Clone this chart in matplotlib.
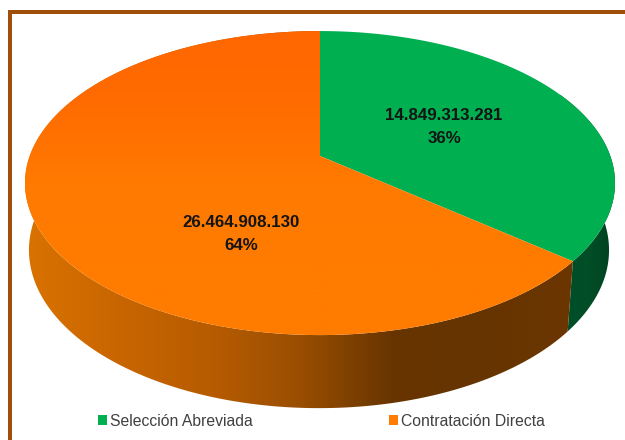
import numpy as np
import matplotlib
matplotlib.use("Agg")
import matplotlib.pyplot as plt
from matplotlib.colors import LinearSegmentedColormap
from matplotlib.patches import Patch, Polygon, Rectangle

categories = ["Selección Abreviada", "Contratación Directa"]
values = [14849313281, 26464908130]
value_labels = ["14.849.313.281", "26.464.908.130"]
percent_labels = ["36%", "64%"]

GREEN = "#00b050"
ORANGE = "#ff7c00"
BORDER = "#a04f0a"

# perspective of the pie disc, in image pixels
P = 0.178
CX = 320


def project_top(theta):
    u, v = np.sin(theta), np.cos(theta)
    d = 1 + P * v
    return CX + 290.3 * u / d, 156 - 147.2 * v / d


def project_bottom(theta):
    u, v = np.sin(theta), np.cos(theta)
    d = 1 + P * v
    return CX - 1 + 285.4 * u / d, 222 - 153 * v / d


def gradient_fill(ax, clip, colors, extent, vertical=False, z=1):
    cmap = LinearSegmentedColormap.from_list("g", colors)
    grad = np.linspace(0, 1, 256)
    grad = grad[:, None] if vertical else grad[None, :]
    im = ax.imshow(grad, cmap=cmap, extent=extent, aspect="auto", origin="upper", zorder=z)
    ax.add_patch(clip)
    clip.set_visible(False)
    im.set_clip_path(clip)


fig = plt.figure(figsize=(6.25, 4.40), dpi=100)
ax = fig.add_axes([0, 0, 1, 1])

fracs = np.array(values) / sum(values)
split = fracs[0] * 2 * np.pi

# sides first, the top face covers whatever is hidden
t = np.linspace(0, split, 200)
tx, ty = project_top(t)
bx, by = project_bottom(t)
side_green = Polygon(np.r_[np.c_[tx, ty], np.c_[bx, by][::-1]], closed=True, transform=ax.transData)
gradient_fill(ax, side_green, ["#00502a", "#004d26", "#003f1f"], (560, 620, 420, 0))

t = np.linspace(split, 2 * np.pi, 500)
tx, ty = project_top(t)
bx, by = project_bottom(t)
side_orange = Polygon(np.r_[np.c_[tx, ty], np.c_[bx, by][::-1]], closed=True, transform=ax.transData)
gradient_fill(
    ax, side_orange,
    ["#d97200", "#c96600", "#b85c00", "#9a4e00", "#683500", "#663400", "#6c3600"],
    (25, 575, 420, 0),
)

# top face
t = np.linspace(0, split, 200)
tx, ty = project_top(t)
ax.add_patch(Polygon(np.r_[[[CX, 156]], np.c_[tx, ty]], closed=True, fc=GREEN, ec="none", zorder=3))

t = np.linspace(split, 2 * np.pi, 500)
tx, ty = project_top(t)
top_orange = Polygon(np.r_[[[CX, 156]], np.c_[tx, ty]], closed=True, transform=ax.transData)
gradient_fill(ax, top_orange, ["#ff6600", "#ff6c00", "#ff7a00", "#ff7c00", "#ff7c00"], (20, 620, 340, 28), vertical=True, z=3)

# data labels
label_pos = [(444, 127), (241, 234)]
for (lx, ly), val, pct in zip(label_pos, value_labels, percent_labels):
    ax.text(lx, ly, f"{val}\n{pct}", ha="center", va="center", fontsize=12.2, fontweight="bold",
            family="Liberation Sans", color="#141414", linespacing=1.62, zorder=5)

# frame: only top and left were kept in the picture
ax.add_patch(Rectangle((8, 10), 617, 4, fc=BORDER, ec="none", zorder=6))
ax.add_patch(Rectangle((8, 10), 4, 430, fc=BORDER, ec="none", zorder=6))

handles = [Patch(fc=GREEN, ec="none"), Patch(fc=ORANGE, ec="none")]
ax.legend(handles, categories, ncol=2, loc="center left", bbox_to_anchor=(98 / 625, 1 - 421 / 440),
          frameon=False, borderpad=0, borderaxespad=0, handlelength=0.55, handleheight=0.6,
          handletextpad=0.2, columnspacing=8.7, prop={"family": "Liberation Sans", "size": 11.3},
          labelcolor="#404040")

ax.set_xlim(0, 625)
ax.set_ylim(440, 0)
ax.axis("off")

fig.savefig("out.png", dpi=100)
